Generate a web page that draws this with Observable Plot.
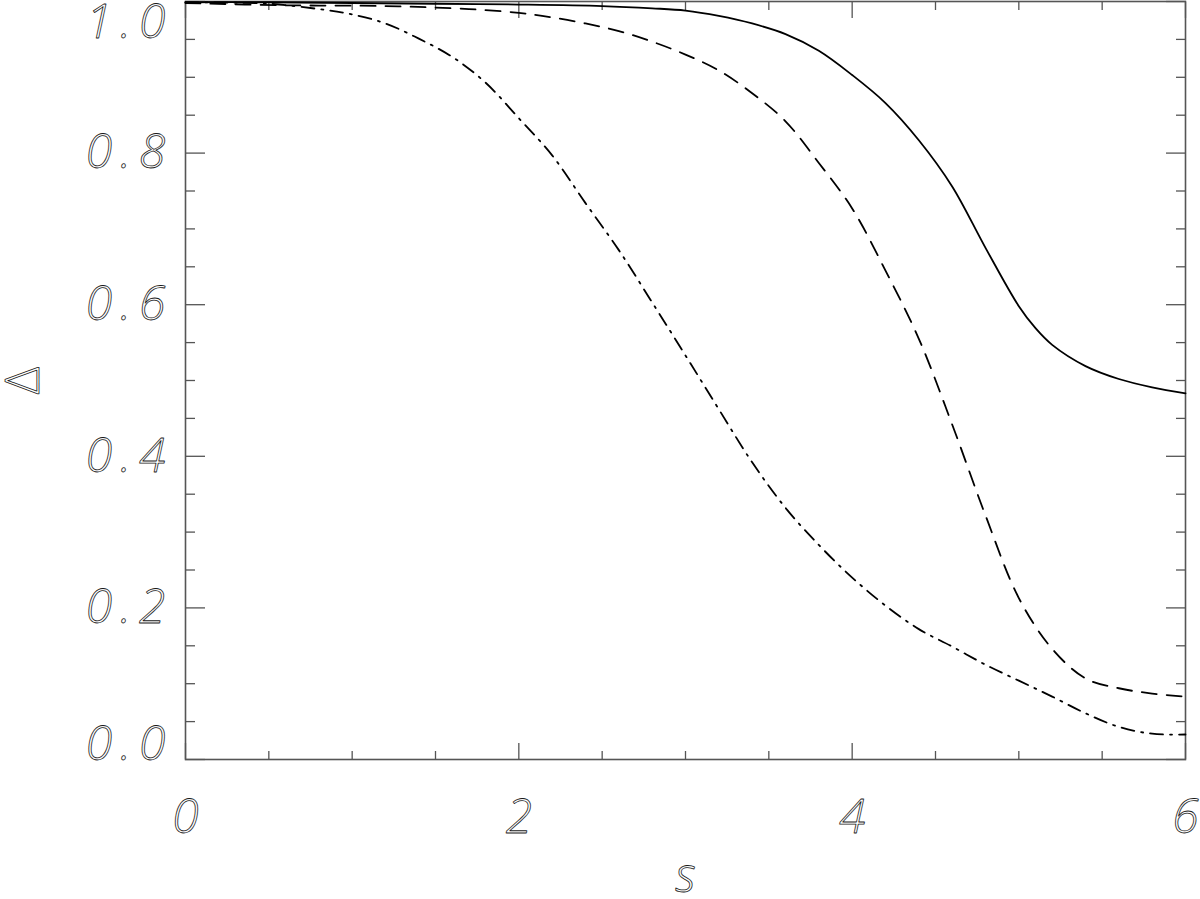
<!DOCTYPE html>
<html>
<head>
<meta charset="utf-8">
<script src="https://cdn.jsdelivr.net/npm/d3@7"></script>
<script src="https://cdn.jsdelivr.net/npm/@observablehq/plot@0.6"></script>
<style>
  html, body { margin: 0; padding: 0; background: #fff; }
  #chart { width: 1200px; height: 899px; }
</style>
</head>
<body>
<div id="chart"></div>
<script>
// ---- data ----
const solidS = [0, 0.5, 1, 1.5, 2, 2.5, 2.8, 3.0, 3.2, 3.4, 3.6, 3.8, 4.0, 4.2, 4.4, 4.6, 4.8, 5.0, 5.1, 5.2, 5.4, 5.6, 5.8, 6.0];
const solidD = [0.999, 0.999, 0.998, 0.997, 0.996, 0.994, 0.991, 0.988, 0.981, 0.971, 0.957, 0.935, 0.903, 0.866, 0.817, 0.756, 0.675, 0.598, 0.569, 0.547, 0.519, 0.502, 0.491, 0.483];

const dashS = [0, 0.6, 1.2, 1.7, 2.0, 2.2, 2.4, 2.6, 2.8, 3.0, 3.2, 3.4, 3.6, 3.8, 4.0, 4.2, 4.4, 4.6, 4.8, 5.0, 5.2, 5.4, 5.6, 5.8, 6.0];
const dashD = [0.998, 0.995, 0.994, 0.990, 0.985, 0.979, 0.971, 0.961, 0.947, 0.930, 0.909, 0.879, 0.842, 0.787, 0.727, 0.645, 0.555, 0.442, 0.322, 0.213, 0.146, 0.107, 0.094, 0.087, 0.083];

const dashDotS = [0, 0.5, 0.8, 1.0, 1.2, 1.4, 1.6, 1.8, 2.0, 2.2, 2.4, 2.6, 2.8, 3.0, 3.2, 3.4, 3.6, 3.8, 4.0, 4.2, 4.4, 4.6, 4.8, 5.0, 5.2, 5.4, 5.6, 5.8, 6.0];
const dashDotD = [0.999, 0.997, 0.990, 0.983, 0.971, 0.951, 0.927, 0.893, 0.846, 0.797, 0.734, 0.672, 0.603, 0.533, 0.462, 0.392, 0.332, 0.283, 0.240, 0.203, 0.172, 0.149, 0.125, 0.104, 0.083, 0.061, 0.043, 0.034, 0.033];

const xMajor = [0, 2, 4, 6];
const xMinor = [0.5, 1, 1.5, 2.5, 3, 3.5, 4.5, 5, 5.5];
const xTickLabels = ["0", "2", "4", "6"];
const yMajor = [0, 0.2, 0.4, 0.6, 0.8, 1.0];
const yMinor = [0.05, 0.1, 0.15, 0.25, 0.3, 0.35, 0.45, 0.5, 0.55, 0.65, 0.7, 0.75, 0.85, 0.9, 0.95];
const yTickLabels = ["0.0", "0.2", "0.4", "0.6", "0.8", "1.0"];
const xLabel = "s";
const yLabel = "Δ";

// ---- build tables ----
const toRows = (S, D) => S.map((s, i) => ({s, d: D[i]}));
const solid = toRows(solidS, solidD);
const dashed = toRows(dashS, dashD);
const dashDot = toRows(dashDotS, dashDotD);
const xLab = xMajor.map((v, i) => ({v, t: xTickLabels[i]}));
const yLab = yMajor.map((v, i) => ({v, t: yTickLabels[i]}));

const axisColor = "#555";
const fontStyleOpts = {
  fontFamily: "'Open Sans', 'DejaVu Sans', sans-serif",
  fontStyle: "italic",
  fontWeight: 300,
  fontSize: 48,
  fill: "none",
  stroke: "#1a1a1a",
  strokeWidth: 0.8
};

const tickAxis = (fn, data, anchor, size) =>
  fn(data, {anchor, tickSize: -size, fill: "none", stroke: axisColor, strokeWidth: 1.3, label: null});

const chart = Plot.plot({
  width: 1200,
  height: 899,
  marginLeft: 185,
  marginRight: 15,
  marginTop: 1,
  marginBottom: 140,
  x: {domain: [0, 6]},
  y: {domain: [0, 1]},
  marks: [
    tickAxis(Plot.axisX, xMajor, "bottom", 16),
    tickAxis(Plot.axisX, xMinor, "bottom", 8),
    tickAxis(Plot.axisX, xMajor, "top", 16),
    tickAxis(Plot.axisX, xMinor, "top", 8),
    tickAxis(Plot.axisY, yMajor, "left", 20),
    tickAxis(Plot.axisY, yMinor, "left", 10),
    tickAxis(Plot.axisY, yMajor, "right", 20),
    tickAxis(Plot.axisY, yMinor, "right", 10),
    Plot.frame({stroke: axisColor, strokeWidth: 1.6}),
    Plot.line(solid, {x: "s", y: "d", stroke: "black", strokeWidth: 1.8, curve: "catmull-rom"}),
    Plot.line(dashed, {x: "s", y: "d", stroke: "black", strokeWidth: 1.8, strokeDasharray: "15,10", curve: "catmull-rom"}),
    Plot.line(dashDot, {x: "s", y: "d", stroke: "black", strokeWidth: 1.8, strokeDasharray: "13,7,2,7", curve: "catmull-rom"}),
    // y tick labels
    Plot.text(yLab.filter(d => d.v > 0 && d.v < 1), {y: "v", text: "t", frameAnchor: "left", dx: -12, textAnchor: "end", lineAnchor: "middle", ...fontStyleOpts}),
    Plot.text(yLab.filter(d => d.v === 0), {y: "v", text: "t", frameAnchor: "left", dx: -12, dy: -15, textAnchor: "end", lineAnchor: "middle", ...fontStyleOpts}),
    Plot.text(yLab.filter(d => d.v === 1), {y: "v", text: "t", frameAnchor: "left", dx: -12, dy: 21, textAnchor: "end", lineAnchor: "middle", ...fontStyleOpts}),
    // x tick labels
    Plot.text(xLab, {x: "v", text: "t", frameAnchor: "bottom", dy: 58, textAnchor: "middle", lineAnchor: "middle", ...fontStyleOpts}),
    // axis titles
    Plot.text([xLabel], {text: d => d, frameAnchor: "bottom", dy: 117, textAnchor: "middle", lineAnchor: "middle", ...fontStyleOpts}),
    Plot.text([yLabel], {text: d => d, frameAnchor: "left", dx: -162, rotate: -90, textAnchor: "middle", lineAnchor: "middle", ...fontStyleOpts, fontStyle: "normal"})
  ]
});

d3.select(chart).selectAll("text")
  .filter(function() { return yTickLabels.includes(this.textContent); })
  .style("letter-spacing", "8px");
document.getElementById("chart").appendChild(chart);
</script>
</body>
</html>
